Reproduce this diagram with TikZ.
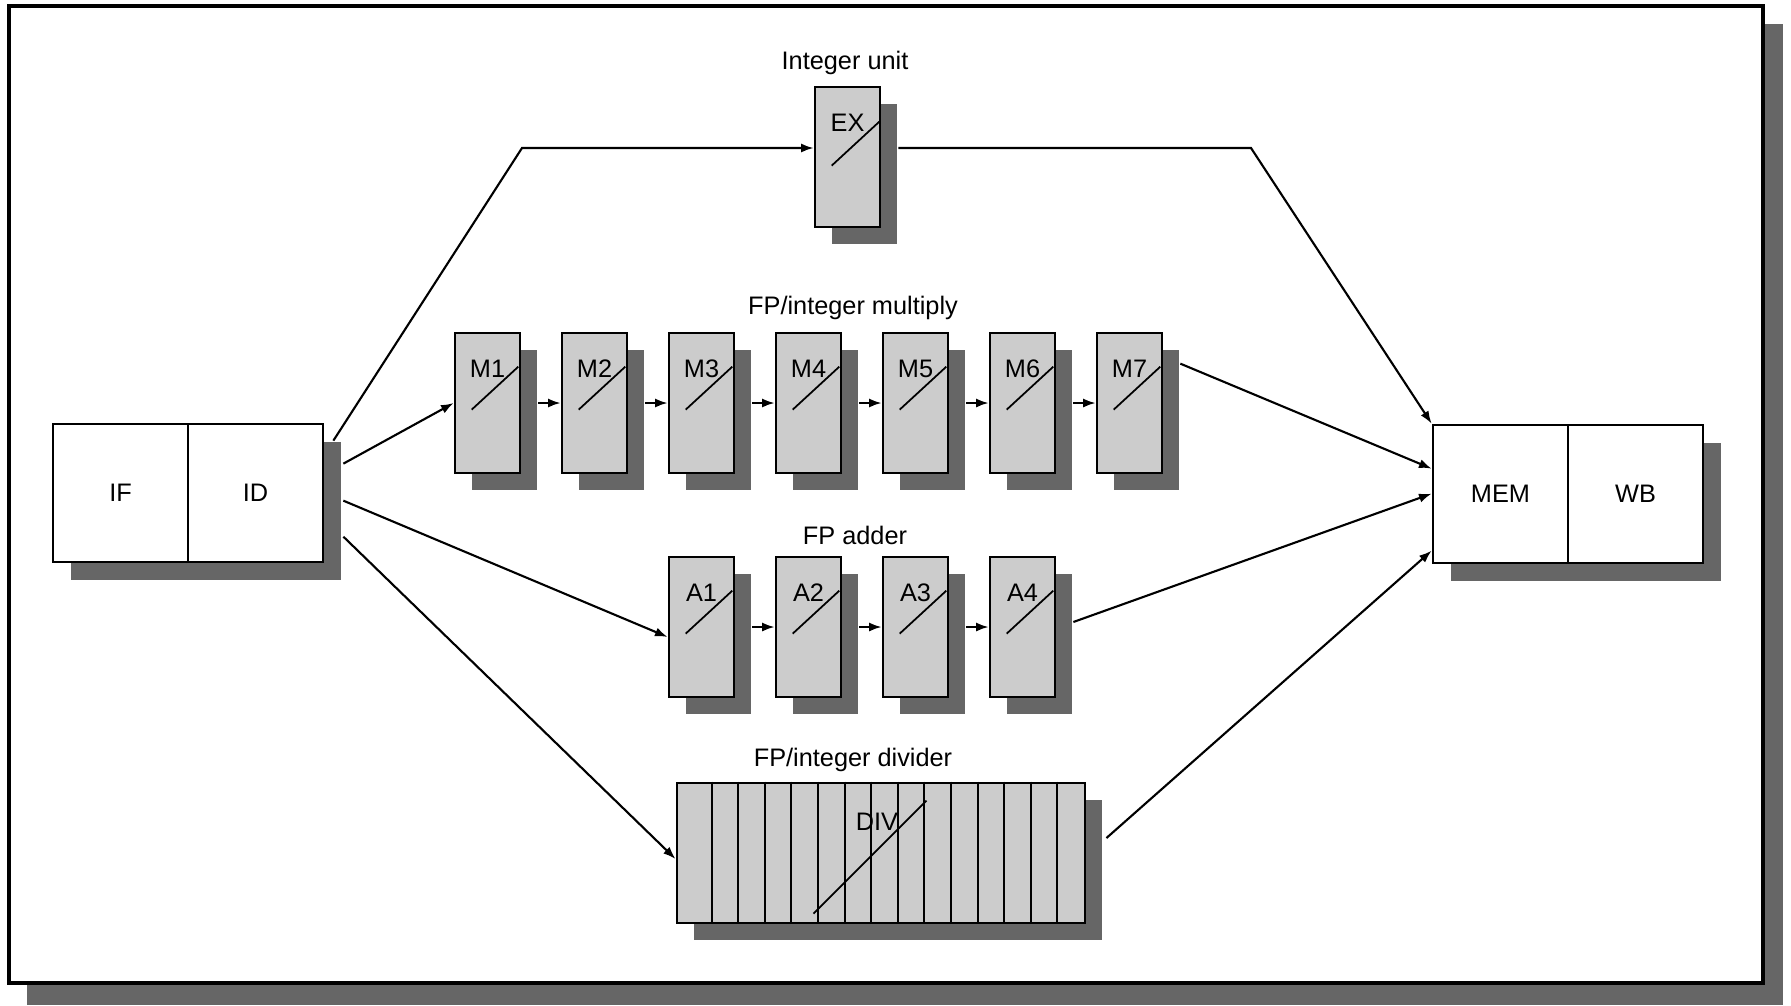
\documentclass[tikz,border=0pt]{standalone}
\usepackage{fontspec}
\setmainfont{Liberation Sans}
\usetikzlibrary{shadows,arrows.meta,calc}
\definecolor{unitfill}{gray}{0.80}
\definecolor{shadowc}{gray}{0.40}
\begin{document}
\begin{tikzpicture}[x=0.01cm,y=-0.01cm,
  font=\fontsize{7.2}{8.5}\selectfont,
  stagebox/.style={draw, line width=0.75pt, fill=white, minimum width=1.35cm,
    minimum height=1.38cm, inner sep=0pt,
    drop shadow={shadow xshift=0.18cm, shadow yshift=-0.18cm, fill=shadowc, opacity=1}},
  unitbox/.style={draw, line width=0.75pt, fill=unitfill, minimum width=0.65cm,
    minimum height=1.40cm, inner sep=0pt,
    drop shadow={shadow xshift=0.17cm, shadow yshift=-0.17cm, fill=shadowc, opacity=1}},
  conn/.style={line width=0.6pt, -{Latex[length=3.6pt,width=2.6pt]}},
  diag/.style={line width=0.5pt},
  grouplabel/.style={inner sep=1pt}
]
\useasboundingbox (0,0) rectangle (1791,1005);
% outer frame with shadow
\fill[shadowc] (27,24) rectangle (1783,1005);
\draw[line width=1pt, fill=white] (9,6) rectangle (1763,983);

% IF / ID and MEM / WB
\node[stagebox] (ifst) at (120.5,493) {IF};
\node[stagebox] (idst) at (255.5,493) {ID};
\node[stagebox] (mem) at (1500.5,494) {MEM};
\node[stagebox] (wb) at (1635.5,494) {WB};

% integer unit
\node[grouplabel] (lint) at (845,63) {Integer unit};
\node[unitbox] (ex) at (847.5,157) {};
\node (exl) at ($(ex.north)+(0,37)$) {EX};
\draw[diag] ($(ex.north east)+(-2,36)$) -- ($(ex.north west)+(18,80)$);

% multiplier
\node[grouplabel] (lmul) at (853,308) {FP/integer multiply};
\foreach \i/\xl in {1/455,2/562,3/669,4/776,5/883,6/990,7/1097}{
  \node[unitbox] (m\i) at (\xl+32.5,403) {};
  \node (ml\i) at ($(m\i.north)+(0,37)$) {M\i};
  \draw[diag] ($(m\i.north east)+(-3,35)$) -- ($(m\i.north west)+(18,78)$);
}

% adder
\node[grouplabel] (ladd) at (855,535) {FP adder};
\foreach \i/\xl in {1/669,2/776,3/883,4/990}{
  \node[unitbox] (a\i) at (\xl+32.5,627) {};
  \node (al\i) at ($(a\i.north)+(0,37)$) {A\i};
  \draw[diag] ($(a\i.north east)+(-3,35)$) -- ($(a\i.north west)+(18,78)$);
}

% divider
\node[grouplabel] (ldiv) at (853,760) {FP/integer divider};
\node[unitbox, minimum width=4.08cm] (div) at (881,853) {};
\foreach \k in {0,...,13}{
  \draw[line width=0.6pt] ($(div.north west)+(36+26.6*\k,0)$) -- ($(div.south west)+(36+26.6*\k,0)$);
}
\node (divl) at ($(div.north)+(-4,40)$) {DIV};
\draw[diag] ($(div.north west)+(251,19)$) -- ($(div.north west)+(138,132)$);

% connectors
\coordinate (c1) at (522,148);
\coordinate (c2) at (1251,148);
\draw[conn] ($(idst.north east)+(9,18)$) -- (c1) -- ($(ex.west)+(0,-9)$);
\draw[conn] ($(ex.east)+(17,-9)$) -- (c2) -- (mem.north west);
\draw[conn] ($(idst.north east)+(19,41)$) -- (m1.west);
\foreach \i/\j in {1/2,2/3,3/4,4/5,5/6,6/7}{
  \draw[conn] ($(m\i.east)+(17,0)$) -- (m\j.west);
}
\draw[conn] ($(m7.north east)+(17,32)$) -- ($(mem.north west)+(0,45)$);
\draw[conn] ($(idst.north east)+(19,78)$) -- ($(a1.west)+(0,10)$);
\foreach \i/\j in {1/2,2/3,3/4}{
  \draw[conn] ($(a\i.east)+(17,0)$) -- (a\j.west);
}
\draw[conn] ($(a4.east)+(17,-5)$) -- ($(mem.north west)+(0,70)$);
\draw[conn] ($(idst.north east)+(19,114)$) -- ($(div.west)+(0,6)$);
\draw[conn] ($(div.east)+(20,-15)$) -- ($(mem.north west)+(0,127)$);
\end{tikzpicture}
\end{document}
